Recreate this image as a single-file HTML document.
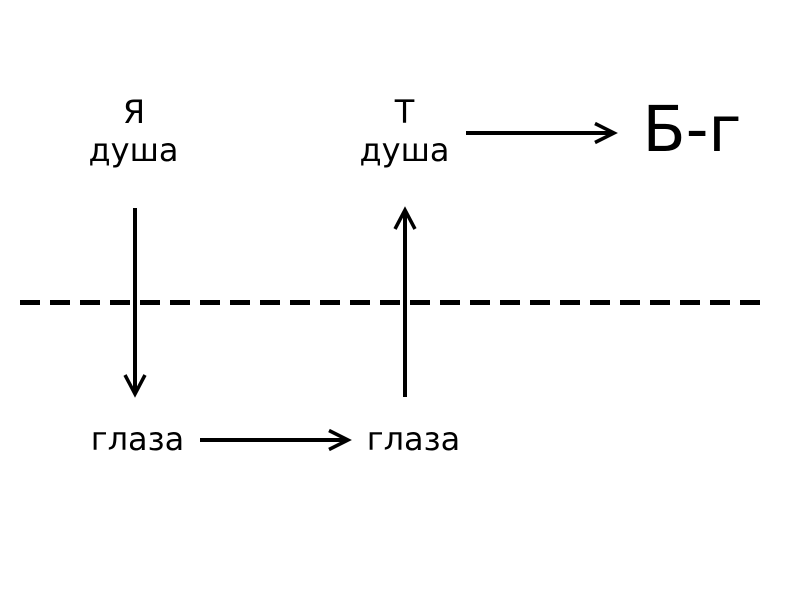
<!DOCTYPE html>
<html>
<head>
<meta charset="utf-8">
<style>
html,body{margin:0;padding:0;background:#fff;}
svg{display:block;}
text{font-family:"DejaVu Sans",sans-serif;fill:#000;}
</style>
</head>
<body>
<svg width="800" height="600" viewBox="0 0 800 600" xmlns="http://www.w3.org/2000/svg">
  <rect width="800" height="600" fill="#fff"/>
  <text x="134" y="123" font-size="32" text-anchor="middle">Я</text>
  <text x="133.5" y="161" font-size="32" text-anchor="middle">душа</text>
  <text x="404.5" y="123" font-size="32" text-anchor="middle">Т</text>
  <text x="404.5" y="161" font-size="32" text-anchor="middle">душа</text>
  <text x="692" y="151" font-size="63" text-anchor="middle">Б-г</text>
  <text x="137.5" y="450" font-size="32" text-anchor="middle">глаза</text>
  <text x="413.5" y="450" font-size="32" text-anchor="middle">глаза</text>
  <line x1="20" y1="302.5" x2="760" y2="302.5" stroke="#000" stroke-width="5" stroke-dasharray="20 10"/>
  <g fill="none" stroke="#000" stroke-width="4">
    <g>
      <line x1="135" y1="208" x2="135" y2="394"/>
      <path d="M125 375 L135 394 L145 375" stroke-width="3.5"/>
    </g>
    <g>
      <line x1="405" y1="397" x2="405" y2="210"/>
      <path d="M395 229 L405 210 L415 229" stroke-width="3.5"/>
    </g>
    <g>
      <line x1="466" y1="133" x2="614" y2="133"/>
      <path d="M595 123.5 L614 133 L595 142.5" stroke-width="3.5"/>
    </g>
    <g>
      <line x1="200" y1="440" x2="348" y2="440"/>
      <path d="M329 430.5 L348 440 L329 449.5" stroke-width="3.5"/>
    </g>
  </g>
</svg>
</body>
</html>
